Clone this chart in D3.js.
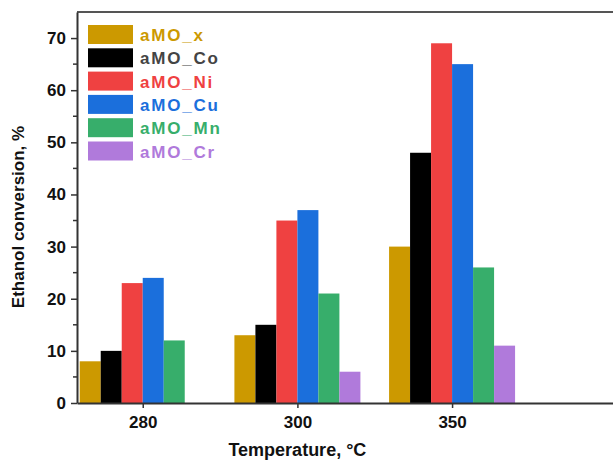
<!DOCTYPE html>
<html lang="en">
<head>
<meta charset="utf-8">
<title>ethanol conversion</title>
<script src="https://d3js.org/d3.v7.min.js"></script>
<style>
  body { margin: 0; background: #fff; overflow: hidden; }
  svg text { font-family: "Liberation Sans", Arial, sans-serif; font-weight: bold; }
</style>
</head>
<body>
<div id="chart"></div>
<script>
// data
var temps = ["280", "300", "350"]
var series = ["aMO_x", "aMO_Co", "aMO_Ni", "aMO_Cu", "aMO_Mn", "aMO_Cr"]
var aMO_x  = [8, 13, 30]
var aMO_Co = [10, 15, 48]
var aMO_Ni = [23, 35, 69]
var aMO_Cu = [24, 37, 65]
var aMO_Mn = [12, 21, 26]
var aMO_Cr = [null, 6, 11]
var yTicks = [0, 10, 20, 30, 40, 50, 60, 70]

var values = [aMO_x, aMO_Co, aMO_Ni, aMO_Cu, aMO_Mn, aMO_Cr]
var colors = ["#CC9900", "#000000", "#EF4141", "#1B6FDC", "#37AE6B", "#B07ADB"]
var textColors = ["#CC9900", "#444444", "#EF4141", "#1B6FDC", "#37AE6B", "#B07ADB"]

var w = 613, h = 461
var mLeft = 77, mTop = 12, mBottom = 403, mRight = 640

var svg = d3.select("#chart").append("svg")
    .attr("width", w).attr("height", h)

var x = d3.scaleLinear().domain([-0.425, 3.215]).range([mLeft, mRight])
var y = d3.scaleLinear().domain([0, 75]).range([mBottom, mTop])
var barW = 21

// bars
values.forEach(function(vals, j) {
    svg.append("g").selectAll("rect")
        .data(vals.map(function(v, i) { return {i: i, v: v} }).filter(function(d) { return d.v != null }))
        .enter().append("rect")
        .attr("x", function(d) { return x(d.i) + (j - 3) * barW })
        .attr("y", function(d) { return y(d.v) })
        .attr("width", barW)
        .attr("height", function(d) { return y(0) - y(d.v) })
        .attr("fill", colors[j])
})

// top frame line
svg.append("line")
    .attr("x1", mLeft).attr("x2", w).attr("y1", mTop).attr("y2", mTop)
    .attr("stroke", "#555").attr("stroke-width", 2)

// y axis
var yAxis = svg.append("g").attr("transform", "translate(" + mLeft + ",0)")
    .call(d3.axisLeft(y).tickValues(yTicks).tickSize(6).tickPadding(5).tickSizeOuter(0))
yAxis.select(".domain").attr("stroke", "#333").attr("stroke-width", 2)
yAxis.selectAll(".tick line").attr("stroke", "#333").attr("stroke-width", 1.5)
yAxis.selectAll(".tick text").attr("font-size", 17).attr("fill", "#111")
yAxis.selectAll(".minor").data(d3.range(5, 75, 10)).enter().append("line")
    .attr("class", "minor")
    .attr("x1", 0).attr("x2", -4)
    .attr("y1", function(d) { return y(d) }).attr("y2", function(d) { return y(d) })
    .attr("stroke", "#333").attr("stroke-width", 1.5)

// x axis
var xAxis = svg.append("g").attr("transform", "translate(0," + mBottom + ")")
    .call(d3.axisBottom(x).tickValues([0, 1, 2]).tickFormat(function(d) { return temps[d] })
        .tickSize(5).tickPadding(8).tickSizeOuter(0))
xAxis.select(".domain").attr("stroke", "#333").attr("stroke-width", 2)
xAxis.selectAll(".tick line").attr("stroke", "#333").attr("stroke-width", 1.5)
xAxis.selectAll(".tick text").attr("font-size", 17).attr("fill", "#111")

// axis titles
svg.append("text")
    .attr("x", x(1)).attr("y", 456)
    .attr("text-anchor", "middle").attr("font-size", 18).attr("fill", "#111")
    .text("Temperature, °C")
svg.append("text")
    .attr("transform", "translate(24,217) rotate(-90)")
    .attr("text-anchor", "middle").attr("font-size", 17).attr("fill", "#111")
    .text("Ethanol conversion, %")

// legend
var legend = svg.append("g").attr("transform", "translate(88,25)")
series.forEach(function(s, j) {
    var g = legend.append("g").attr("transform", "translate(0," + (j * 23.3) + ")")
    g.append("rect").attr("width", 45).attr("height", 19).attr("fill", colors[j])
    g.append("text").attr("x", 52).attr("y", 16)
        .attr("font-size", 17).attr("letter-spacing", 1.8)
        .attr("fill", textColors[j]).text(s)
})
</script>
</body>
</html>
